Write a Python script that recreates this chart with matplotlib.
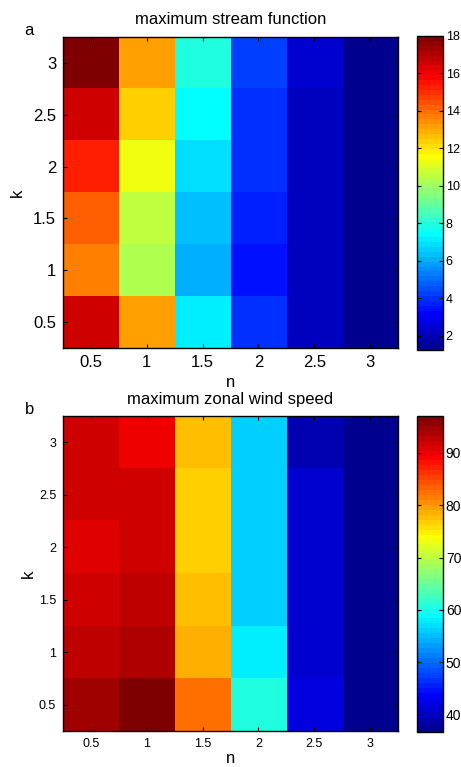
import numpy as np
import matplotlib
matplotlib.use('Agg')
import matplotlib.pyplot as plt
from matplotlib.colors import ListedColormap

plt.rcParams['font.family'] = ['Liberation Sans', 'DejaVu Sans']

# ejes de los parametros
n_vals = [0.5, 1, 1.5, 2, 2.5, 3]
k_vals = [0.5, 1, 1.5, 2, 2.5, 3]

# filas: k = 0.5 ... 3, columnas: n = 0.5 ... 3
stream_max = [
    [16.56, 13.16, 7.14, 3.99, 2.17, 1.25],
    [13.68, 10.28, 6.09, 3.47, 2.17, 1.25],
    [14.19, 10.55, 6.36, 3.74, 2.17, 1.25],
    [15.25, 11.33, 6.88, 3.99, 2.17, 1.25],
    [16.56, 12.36, 7.40, 3.99, 2.17, 1.25],
    [18.00, 13.16, 7.92, 4.26, 2.43, 1.25],
]
wind_max = [
    [94.6, 97.0, 82.4, 60.7, 41.9, 36.7],
    [92.8, 93.7, 78.6, 57.9, 41.0, 36.7],
    [91.8, 92.8, 77.7, 56.0, 41.0, 36.7],
    [90.9, 91.8, 76.7, 56.0, 41.0, 36.7],
    [91.8, 91.8, 76.7, 56.0, 41.0, 36.7],
    [91.8, 89.9, 77.7, 56.0, 39.1, 36.7],
]
cbar_ticks_a = [2, 4, 6, 8, 10, 12, 14, 16, 18]
cbar_ticks_b = [40, 50, 60, 70, 80, 90]


# Colormap jet(64) igual que en MATLAB
def jetMatlab(m=64):
    n = int(np.ceil(m / 4))
    u = np.concatenate([np.arange(1, n + 1) / n, np.ones(n - 1), np.arange(n, 0, -1) / n])
    g = int(np.ceil(n / 2)) - (1 if m % 4 == 1 else 0) + np.arange(len(u))
    r = g + n
    b = g - n
    J = np.zeros((m, 3))
    for col, idx in enumerate([r, g, b]):
        ok = (idx >= 0) & (idx < m)
        J[idx[ok], col] = u[ok]
    return ListedColormap(J)


cmap = jetMatlab()


def panel(fig, rect, crect, data, title, letter, ticks, tsize, csize, xpad, ypad):
    ax = fig.add_axes(rect)
    cax = fig.add_axes(crect)
    data = np.array(data)
    im = ax.imshow(data, origin='lower', cmap=cmap, aspect='auto',
                   extent=[0.25, 3.25, 0.25, 3.25], interpolation='nearest',
                   vmin=data.min(), vmax=data.max())
    ax.set_xticks(n_vals)
    ax.set_yticks(k_vals)
    ax.set_xticklabels(['%g' % v for v in n_vals])
    ax.set_yticklabels(['%g' % v for v in k_vals])
    ax.tick_params(direction='in', length=3, width=0.8, top=True, right=True,
                   labelsize=tsize, pad=5)
    ax.set_xlabel('n', fontsize=12, labelpad=xpad)
    ax.set_ylabel('k', fontsize=12, labelpad=ypad)
    ax.set_title(title, fontsize=12, pad=9)
    ax.text(-0.101, 1.022, letter, transform=ax.transAxes, fontsize=12,
            ha='center', va='center')
    for s in ax.spines.values():
        s.set_linewidth(1.0)
    cb = fig.colorbar(im, cax=cax, ticks=ticks)
    cb.ax.tick_params(direction='in', length=3, width=0.8, left=True, right=True,
                      labelsize=csize, pad=2)
    cb.outline.set_linewidth(1.0)
    return ax


fig = plt.figure(figsize=(4.61, 7.67), dpi=100)
panel(fig, [0.1367, 0.5463, 0.7267, 0.4055], [0.9046, 0.5437, 0.0564, 0.4094],
      stream_max, 'maximum stream function', 'a', cbar_ticks_a, 12, 9, 4, 6)
panel(fig, [0.1367, 0.0469, 0.7267, 0.4107], [0.9046, 0.0456, 0.0564, 0.4120],
      wind_max, 'maximum zonal wind speed', 'b', cbar_ticks_b, 9, 10, 1, 2)
fig.savefig('out.png', dpi=100)
